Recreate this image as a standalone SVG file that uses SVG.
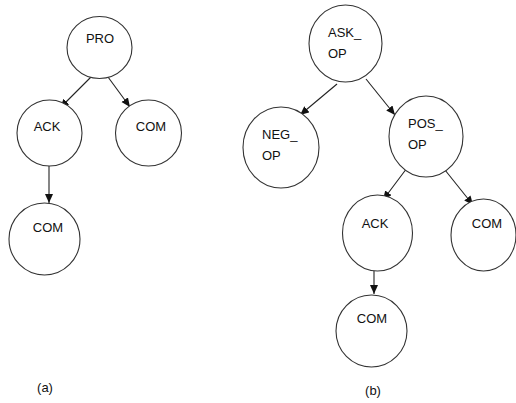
<svg xmlns="http://www.w3.org/2000/svg" width="516" height="403" viewBox="0 0 516 403">
<style>
.n{fill:#fff;stroke:#333;stroke-width:1.1}
.t{font-family:"Liberation Sans",Arial,sans-serif;font-size:13px;fill:#111}
.c{text-anchor:middle}
.e{stroke:#222;stroke-width:1.1;fill:none;marker-end:url(#ah)}
</style>
<defs>
<marker id="ah" markerUnits="userSpaceOnUse" markerWidth="10" markerHeight="10" refX="9" refY="4" orient="auto">
<path d="M0,0 L9,4 L0,8 Z" fill="#111"/>
</marker>
</defs>
<rect width="516" height="403" fill="#fff"/>
<g id="edges">
<line class="e" x1="91" y1="77" x2="60" y2="108"/>
<line class="e" x1="108" y1="77" x2="130" y2="107"/>
<line class="e" x1="49" y1="166" x2="49" y2="203"/>
<line class="e" x1="337" y1="84" x2="300" y2="115"/>
<line class="e" x1="366" y1="79" x2="395" y2="115"/>
<line class="e" x1="407" y1="168" x2="383" y2="200"/>
<line class="e" x1="445" y1="170" x2="473" y2="205"/>
<line class="e" x1="374" y1="271" x2="374" y2="294"/>
</g>
<g id="a_pro"><ellipse class="n" cx="99.5" cy="47.5" rx="32.5" ry="31"/><text class="t c" x="100" y="43">PRO</text></g>
<g id="a_ack"><ellipse class="n" cx="49.5" cy="133" rx="32.5" ry="33"/><text class="t c" x="47" y="131">ACK</text></g>
<g id="a_com1"><ellipse class="n" cx="148.5" cy="133" rx="33" ry="33"/><text class="t c" x="151" y="131">COM</text></g>
<g id="a_com2"><ellipse class="n" cx="44.5" cy="239" rx="35.5" ry="36"/><text class="t c" x="48" y="232">COM</text></g>
<g id="b_ask"><ellipse class="n" cx="345.5" cy="43.5" rx="36.5" ry="38.5"/><text class="t" x="328" y="37">ASK_</text><text class="t" x="328" y="58">OP</text></g>
<g id="b_neg"><ellipse class="n" cx="281" cy="147.5" rx="38" ry="40.5"/><text class="t" x="262" y="139">NEG_</text><text class="t" x="262" y="160">OP</text></g>
<g id="b_pos"><ellipse class="n" cx="426" cy="136.5" rx="37" ry="40.5"/><text class="t" x="408" y="128">POS_</text><text class="t" x="408" y="149">OP</text></g>
<g id="b_ack"><ellipse class="n" cx="377.5" cy="233" rx="35" ry="38"/><text class="t c" x="375" y="228">ACK</text></g>
<g id="b_com1"><ellipse class="n" cx="483.5" cy="235" rx="32.5" ry="36"/><text class="t c" x="487" y="228">COM</text></g>
<g id="b_com2"><ellipse class="n" cx="371.5" cy="331" rx="35.5" ry="36"/><text class="t c" x="372" y="323">COM</text></g>
<text class="t c" x="45" y="392">(a)</text>
<text class="t c" x="373" y="395">(b)</text>
</svg>
